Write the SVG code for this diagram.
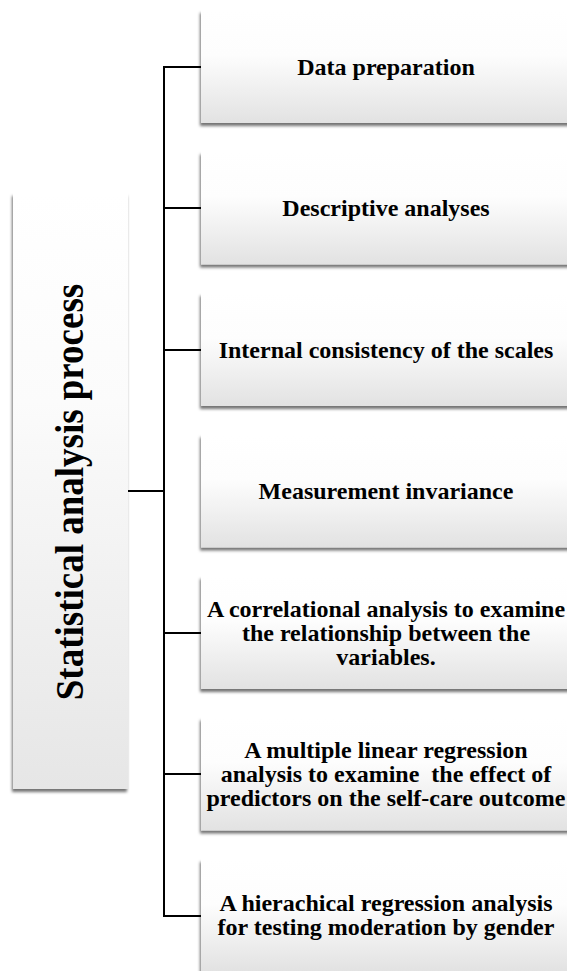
<svg xmlns="http://www.w3.org/2000/svg" width="567" height="971" viewBox="0 0 567 971">
<defs>
<linearGradient id="gBox" x1="0" y1="0" x2="0" y2="1">
<stop offset="0" stop-color="#ffffff"/>
<stop offset="0.4" stop-color="#fdfdfd"/>
<stop offset="1" stop-color="#e2e2e2"/>
</linearGradient>
<linearGradient id="gRoot" x1="0" y1="0" x2="0" y2="1">
<stop offset="0" stop-color="#ffffff"/>
<stop offset="0.35" stop-color="#fbfbfb"/>
<stop offset="1" stop-color="#e6e6e6"/>
</linearGradient>
<filter id="sh" x="-10%" y="-10%" width="120%" height="125%">
<feDropShadow dx="-1" dy="3" stdDeviation="1.8" flood-color="#000" flood-opacity="0.55"/>
</filter>
</defs>
<style>
.box{fill:url(#gBox);filter:url(#sh)}
.root{fill:url(#gRoot);filter:url(#sh)}
.lbl{font-family:"Liberation Serif","Times New Roman",serif;font-weight:bold;font-size:24px;fill:#000;text-anchor:middle}
.ttl{font-family:"Liberation Serif","Times New Roman",serif;font-weight:bold;font-size:37px;fill:#000;text-anchor:middle}
.con{stroke:#000;stroke-width:2;fill:none}
</style>
<g id="connectors">
<path class="con" d="M128 491H164M201 67H164V916H201M164 208H201M164 350H201M164 633H201M164 774H201"/>
</g>
<g id="root">
<rect class="root" x="13" y="193" width="115" height="596"/>
<text class="ttl" transform="translate(83 492) rotate(-90) scale(1 1.1)">Statistical analysis process</text>
</g>
<g id="n1">
<rect class="box" x="201" y="10" width="370" height="113"/>
<text class="lbl" x="386" y="75">Data preparation</text>
</g>
<g id="n2">
<rect class="box" x="201" y="151.5" width="370" height="113"/>
<text class="lbl" x="386" y="216">Descriptive analyses</text>
</g>
<g id="n3">
<rect class="box" x="201" y="293" width="370" height="113"/>
<text class="lbl" x="386" y="357.5">Internal consistency of the scales</text>
</g>
<g id="n4">
<rect class="box" x="201" y="434.5" width="370" height="113"/>
<text class="lbl" x="386" y="499">Measurement invariance</text>
</g>
<g id="n5">
<rect class="box" x="201" y="576" width="370" height="113"/>
<text class="lbl" x="386" y="616.5">A correlational analysis to examine</text>
<text class="lbl" x="386" y="640.5">the relationship between the</text>
<text class="lbl" x="386" y="664.5">variables.</text>
</g>
<g id="n6">
<rect class="box" x="201" y="717.5" width="370" height="113"/>
<text class="lbl" x="386" y="758">A multiple linear regression</text>
<text class="lbl" x="386" y="782" xml:space="preserve">analysis to examine  the effect of</text>
<text class="lbl" x="386" y="806">predictors on the self-care outcome</text>
</g>
<g id="n7">
<rect class="box" x="201" y="859" width="370" height="113"/>
<text class="lbl" x="386" y="911">A hierachical regression analysis</text>
<text class="lbl" x="386" y="935">for testing moderation by gender</text>
</g>
</svg>
